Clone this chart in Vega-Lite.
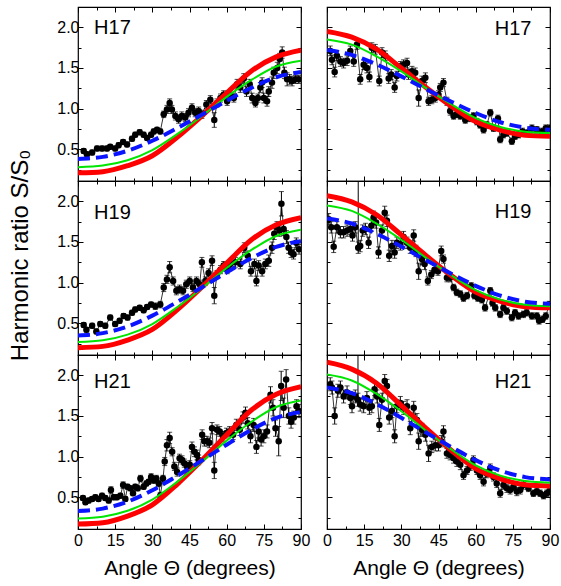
{
"$schema":"https://vega.github.io/schema/vega-lite/v6.json",
"background":"#ffffff",
"padding":{"left":8,"top":5,"right":5,"bottom":5},
"spacing":10,
"config":{
 "view":{"stroke":"#000","strokeWidth":1.2},
 "axis":{"domain":false,"grid":false,"ticks":true,"tickSize":-5,"tickColor":"#000","tickWidth":1,"labelFont":"Liberation Sans","labelFontSize":16,"labelColor":"#000","titleFont":"Liberation Sans","titleFontSize":21,"titleFontWeight":"normal","titleColor":"#000","labelOverlap":false,"labelFlush":false},
 "axisTop":{"minExtent":0,"maxExtent":0},
 "axisRight":{"minExtent":0,"maxExtent":0}
},
"datasets":{
 "d17L":[{"x":2.3,"y":0.48,"e":0.03},{"x":3.6,"y":0.44,"e":0.03},{"x":5.7,"y":0.46,"e":0.03},{"x":7.7,"y":0.51,"e":0.03},{"x":9.7,"y":0.51,"e":0.03},{"x":11.7,"y":0.51,"e":0.03},{"x":13,"y":0.53,"e":0.03},{"x":15,"y":0.51,"e":0.03},{"x":16.4,"y":0.55,"e":0.03},{"x":18.2,"y":0.59,"e":0.03},{"x":19.8,"y":0.56,"e":0.03},{"x":21.8,"y":0.63,"e":0.03},{"x":23.1,"y":0.68,"e":0.03},{"x":24.9,"y":0.71,"e":0.03},{"x":26.5,"y":0.68,"e":0.03},{"x":27.9,"y":0.64,"e":0.03},{"x":29.5,"y":0.68,"e":0.03},{"x":30.6,"y":0.72,"e":0.03},{"x":31.9,"y":0.74,"e":0.03},{"x":33.2,"y":0.72,"e":0.03},{"x":34.6,"y":0.93,"e":0.04},{"x":35.9,"y":0.99,"e":0.05},{"x":37,"y":1.07,"e":0.05},{"x":37.9,"y":0.99,"e":0.05},{"x":39.3,"y":0.91,"e":0.05},{"x":40.6,"y":0.87,"e":0.05},{"x":41.9,"y":0.91,"e":0.05},{"x":43.3,"y":0.89,"e":0.05},{"x":44.6,"y":0.95,"e":0.05},{"x":46,"y":1.01,"e":0.05},{"x":47.3,"y":0.95,"e":0.05},{"x":48.7,"y":0.97,"e":0.05},{"x":50,"y":0.93,"e":0.05},{"x":51.8,"y":1.05,"e":0.05},{"x":53.4,"y":1.11,"e":0.05},{"x":55,"y":0.86,"e":0.09},{"x":56.1,"y":1.07,"e":0.05},{"x":57.5,"y":1.13,"e":0.05},{"x":58.8,"y":1.17,"e":0.05},{"x":60.2,"y":1.09,"e":0.05},{"x":61.5,"y":1.17,"e":0.05},{"x":62.9,"y":1.13,"e":0.05},{"x":64.2,"y":1.3,"e":0.06},{"x":65.5,"y":1.26,"e":0.06},{"x":66.9,"y":1.37,"e":0.06},{"x":68,"y":1.21,"e":0.06},{"x":69.3,"y":1.3,"e":0.06},{"x":70.3,"y":1.13,"e":0.06},{"x":71.6,"y":1.07,"e":0.05},{"x":72.6,"y":1.13,"e":0.05},{"x":73.6,"y":1.26,"e":0.06},{"x":74.3,"y":1.32,"e":0.06},{"x":75,"y":1.13,"e":0.06},{"x":76.3,"y":1.09,"e":0.06},{"x":77,"y":1.21,"e":0.06},{"x":78.3,"y":1.32,"e":0.07},{"x":79,"y":1.44,"e":0.07},{"x":80.4,"y":1.5,"e":0.07},{"x":81.4,"y":1.61,"e":0.07},{"x":82.4,"y":1.69,"e":0.07},{"x":83.3,"y":1.44,"e":0.07},{"x":84.4,"y":1.36,"e":0.08},{"x":85.4,"y":1.36,"e":0.06},{"x":86.4,"y":1.34,"e":0.06},{"x":87.8,"y":1.36,"e":0.05},{"x":89.1,"y":1.36,"e":0.05}],
 "d17R":[{"x":1.3,"y":1.71,"e":0.06},{"x":2,"y":1.6,"e":0.06},{"x":3.1,"y":1.45,"e":0.06},{"x":4,"y":1.65,"e":0.06},{"x":5.4,"y":1.58,"e":0.06},{"x":6.7,"y":1.56,"e":0.06},{"x":8.1,"y":1.59,"e":0.06},{"x":9.4,"y":1.71,"e":0.06},{"x":10.8,"y":1.58,"e":0.06},{"x":12.1,"y":1.79,"e":0.06},{"x":13.4,"y":1.36,"e":0.06},{"x":14.8,"y":1.54,"e":0.06},{"x":16.1,"y":1.5,"e":0.06},{"x":17.1,"y":1.39,"e":0.06},{"x":18.1,"y":1.75,"e":0.06},{"x":19.5,"y":1.73,"e":0.06},{"x":21.1,"y":1.34,"e":0.06},{"x":22.2,"y":1.69,"e":0.06},{"x":23.5,"y":1.65,"e":0.06},{"x":24.9,"y":1.37,"e":0.06},{"x":25.9,"y":1.42,"e":0.06},{"x":27.3,"y":1.26,"e":0.06},{"x":28.2,"y":1.4,"e":0.06},{"x":29.6,"y":1.52,"e":0.06},{"x":30.9,"y":1.54,"e":0.06},{"x":32.3,"y":1.56,"e":0.06},{"x":32.9,"y":1.42,"e":0.06},{"x":34.3,"y":1.46,"e":0.06},{"x":35.6,"y":1.44,"e":0.06},{"x":37,"y":1.13,"e":0.1},{"x":38.3,"y":1.34,"e":0.06},{"x":39.7,"y":1.38,"e":0.06},{"x":41,"y":1.09,"e":0.05},{"x":42.3,"y":1.11,"e":0.05},{"x":43.7,"y":1.13,"e":0.05},{"x":45,"y":1.17,"e":0.05},{"x":45.7,"y":1.26,"e":0.05},{"x":47,"y":1.32,"e":0.05},{"x":48.4,"y":1.09,"e":0.05},{"x":49.7,"y":0.97,"e":0.05},{"x":51.1,"y":0.91,"e":0.04},{"x":52.4,"y":0.93,"e":0.04},{"x":53.8,"y":0.91,"e":0.04},{"x":55.8,"y":0.86,"e":0.04},{"x":57.8,"y":0.88,"e":0.04},{"x":59.1,"y":0.91,"e":0.04},{"x":60.5,"y":0.84,"e":0.04},{"x":61.8,"y":0.8,"e":0.04},{"x":63.2,"y":0.74,"e":0.04},{"x":64.5,"y":0.8,"e":0.04},{"x":65.9,"y":0.95,"e":0.04},{"x":67.2,"y":0.76,"e":0.04},{"x":69,"y":0.88,"e":0.04},{"x":69.9,"y":0.62,"e":0.04},{"x":71.2,"y":0.68,"e":0.04},{"x":72.6,"y":0.7,"e":0.04},{"x":74.6,"y":0.6,"e":0.04},{"x":75.9,"y":0.66,"e":0.04},{"x":77.3,"y":0.68,"e":0.04},{"x":78.9,"y":0.72,"e":0.04},{"x":80.6,"y":0.7,"e":0.04},{"x":82.7,"y":0.76,"e":0.04},{"x":84.7,"y":0.74,"e":0.04},{"x":86.7,"y":0.72,"e":0.04},{"x":88.3,"y":0.76,"e":0.04},{"x":89.8,"y":0.76,"e":0.04}],
 "d19L":[{"x":2.3,"y":0.48,"e":0.03},{"x":3.4,"y":0.42,"e":0.03},{"x":5.7,"y":0.47,"e":0.03},{"x":7.4,"y":0.4,"e":0.03},{"x":9,"y":0.49,"e":0.03},{"x":11,"y":0.47,"e":0.03},{"x":13,"y":0.57,"e":0.03},{"x":15,"y":0.49,"e":0.03},{"x":16.8,"y":0.53,"e":0.03},{"x":18.4,"y":0.59,"e":0.03},{"x":20,"y":0.57,"e":0.03},{"x":21.8,"y":0.63,"e":0.03},{"x":23.1,"y":0.67,"e":0.03},{"x":24.9,"y":0.69,"e":0.03},{"x":26.5,"y":0.66,"e":0.03},{"x":27.9,"y":0.7,"e":0.03},{"x":29.5,"y":0.73,"e":0.03},{"x":31.2,"y":0.71,"e":0.04},{"x":33.2,"y":0.73,"e":0.04},{"x":34.6,"y":0.94,"e":0.05},{"x":35.9,"y":1.04,"e":0.05},{"x":37,"y":1.19,"e":0.07},{"x":38.4,"y":1.02,"e":0.05},{"x":39.7,"y":0.9,"e":0.05},{"x":41,"y":0.92,"e":0.05},{"x":42.4,"y":0.9,"e":0.05},{"x":43.7,"y":0.98,"e":0.05},{"x":45.1,"y":1.02,"e":0.05},{"x":46.4,"y":0.94,"e":0.05},{"x":47.8,"y":1.02,"e":0.05},{"x":49.1,"y":0.98,"e":0.05},{"x":50,"y":1.25,"e":0.06},{"x":51.4,"y":1.02,"e":0.05},{"x":52.7,"y":1.12,"e":0.05},{"x":54.1,"y":1.27,"e":0.06},{"x":55,"y":0.84,"e":0.1},{"x":56.1,"y":1.1,"e":0.05},{"x":57.5,"y":1.16,"e":0.05},{"x":58.8,"y":1.21,"e":0.05},{"x":60.2,"y":1.16,"e":0.05},{"x":61.5,"y":1.23,"e":0.05},{"x":63.5,"y":1.25,"e":0.06},{"x":65.5,"y":1.23,"e":0.06},{"x":67.1,"y":1.43,"e":0.06},{"x":68.5,"y":1.33,"e":0.06},{"x":69.8,"y":1.14,"e":0.06},{"x":71.2,"y":1.23,"e":0.06},{"x":72,"y":1.02,"e":0.06},{"x":72.9,"y":1.21,"e":0.06},{"x":74.3,"y":1.14,"e":0.06},{"x":75.6,"y":1.23,"e":0.06},{"x":77,"y":1.27,"e":0.07},{"x":78.3,"y":1.43,"e":0.07},{"x":79.2,"y":1.6,"e":0.07},{"x":80.3,"y":1.68,"e":0.07},{"x":81.4,"y":1.64,"e":0.07},{"x":82.1,"y":1.97,"e":0.15},{"x":83,"y":1.66,"e":0.08},{"x":84.1,"y":1.56,"e":0.08},{"x":85,"y":1.43,"e":0.07},{"x":86,"y":1.37,"e":0.06},{"x":87,"y":1.35,"e":0.06},{"x":88.1,"y":1.49,"e":0.06},{"x":89.2,"y":1.41,"e":0.06}],
 "d19R":[{"x":0.7,"y":1.78,"e":0.07},{"x":1.7,"y":1.68,"e":0.07},{"x":2.7,"y":1.44,"e":0.07},{"x":4,"y":1.68,"e":0.07},{"x":5.4,"y":1.62,"e":0.07},{"x":6.7,"y":1.62,"e":0.07},{"x":8.1,"y":1.64,"e":0.07},{"x":9.4,"y":1.66,"e":0.07},{"x":10.3,"y":1.58,"e":0.07},{"x":11.4,"y":1.68,"e":0.07},{"x":12.6,"y":1.43,"e":0.07},{"x":13.4,"y":1.45,"e":0.07},{"x":14.4,"y":1.64,"e":0.07},{"x":15.5,"y":1.66,"e":0.07},{"x":16.8,"y":1.49,"e":0.07},{"x":17.9,"y":1.7,"e":0.07},{"x":18.8,"y":1.8,"e":0.08},{"x":19.8,"y":1.74,"e":0.07},{"x":20.8,"y":1.37,"e":0.07},{"x":22.2,"y":1.64,"e":0.07},{"x":23.3,"y":1.86,"e":0.08},{"x":24.2,"y":1.76,"e":0.07},{"x":25.1,"y":1.33,"e":0.07},{"x":26.2,"y":1.45,"e":0.07},{"x":27.3,"y":1.37,"e":0.07},{"x":28.2,"y":1.49,"e":0.07},{"x":29.6,"y":1.47,"e":0.07},{"x":30.9,"y":1.56,"e":0.07},{"x":32.3,"y":1.49,"e":0.07},{"x":33.6,"y":1.43,"e":0.07},{"x":35,"y":1.58,"e":0.07},{"x":35.9,"y":1.39,"e":0.07},{"x":37,"y":1.14,"e":0.1},{"x":38.3,"y":1.29,"e":0.07},{"x":39.4,"y":1.23,"e":0.07},{"x":40.7,"y":1.02,"e":0.05},{"x":42.1,"y":1.1,"e":0.05},{"x":43.4,"y":1.16,"e":0.05},{"x":44.8,"y":1.14,"e":0.05},{"x":46.1,"y":1.39,"e":0.06},{"x":47,"y":1.29,"e":0.05},{"x":48.4,"y":1.06,"e":0.05},{"x":49.7,"y":1.06,"e":0.05},{"x":51.1,"y":0.94,"e":0.04},{"x":52.4,"y":0.88,"e":0.04},{"x":53.8,"y":0.86,"e":0.04},{"x":55.1,"y":0.81,"e":0.04},{"x":56.5,"y":0.84,"e":0.04},{"x":58.2,"y":0.96,"e":0.04},{"x":59.5,"y":0.84,"e":0.04},{"x":60.9,"y":0.81,"e":0.04},{"x":62.5,"y":0.79,"e":0.04},{"x":63.8,"y":0.69,"e":0.04},{"x":65.9,"y":0.9,"e":0.04},{"x":66.8,"y":0.75,"e":0.04},{"x":67.9,"y":0.69,"e":0.04},{"x":69.9,"y":0.61,"e":0.04},{"x":71.2,"y":0.69,"e":0.04},{"x":72.6,"y":0.65,"e":0.04},{"x":74.6,"y":0.57,"e":0.04},{"x":75.9,"y":0.63,"e":0.04},{"x":77.3,"y":0.59,"e":0.04},{"x":79.3,"y":0.61,"e":0.04},{"x":80.6,"y":0.63,"e":0.04},{"x":82.7,"y":0.59,"e":0.04},{"x":84.7,"y":0.59,"e":0.04},{"x":85.6,"y":0.53,"e":0.04},{"x":87,"y":0.55,"e":0.04},{"x":88.3,"y":0.59,"e":0.04},{"x":89.7,"y":0.73,"e":0.04}],
 "d21L":[{"x":2,"y":0.49,"e":0.03},{"x":3,"y":0.44,"e":0.03},{"x":4.3,"y":0.46,"e":0.03},{"x":5.7,"y":0.48,"e":0.03},{"x":7,"y":0.5,"e":0.03},{"x":8.3,"y":0.48,"e":0.03},{"x":9.7,"y":0.52,"e":0.03},{"x":11,"y":0.49,"e":0.03},{"x":12.4,"y":0.46,"e":0.03},{"x":13.3,"y":0.59,"e":0.04},{"x":14.4,"y":0.5,"e":0.03},{"x":15.7,"y":0.5,"e":0.03},{"x":17.1,"y":0.52,"e":0.03},{"x":18.2,"y":0.65,"e":0.04},{"x":19.1,"y":0.48,"e":0.03},{"x":20,"y":0.63,"e":0.03},{"x":21.1,"y":0.61,"e":0.03},{"x":22.2,"y":0.55,"e":0.03},{"x":23.1,"y":0.63,"e":0.03},{"x":24.1,"y":0.61,"e":0.03},{"x":25.2,"y":0.73,"e":0.04},{"x":26.5,"y":0.63,"e":0.03},{"x":27.6,"y":0.67,"e":0.03},{"x":28.5,"y":0.69,"e":0.03},{"x":29.5,"y":0.75,"e":0.04},{"x":30.6,"y":0.71,"e":0.04},{"x":31.6,"y":0.73,"e":0.04},{"x":32.6,"y":0.67,"e":0.04},{"x":33.2,"y":0.52,"e":0.04},{"x":34.3,"y":0.73,"e":0.04},{"x":35,"y":0.94,"e":0.05},{"x":35.9,"y":1.14,"e":0.07},{"x":37,"y":1.23,"e":0.07},{"x":38,"y":1.06,"e":0.05},{"x":38.9,"y":0.88,"e":0.05},{"x":40,"y":0.81,"e":0.05},{"x":41,"y":0.98,"e":0.05},{"x":42,"y":0.96,"e":0.05},{"x":42.9,"y":0.92,"e":0.05},{"x":44,"y":0.88,"e":0.05},{"x":45.1,"y":0.9,"e":0.05},{"x":46,"y":1.12,"e":0.06},{"x":47,"y":1.06,"e":0.06},{"x":48,"y":1.02,"e":0.06},{"x":48.7,"y":0.96,"e":0.06},{"x":50.1,"y":1.27,"e":0.06},{"x":51,"y":1.19,"e":0.06},{"x":52.1,"y":1.19,"e":0.06},{"x":53,"y":1.17,"e":0.06},{"x":54.1,"y":1.35,"e":0.07},{"x":55,"y":0.83,"e":0.1},{"x":56.1,"y":1.33,"e":0.06},{"x":57.2,"y":1.31,"e":0.06},{"x":58.5,"y":1.25,"e":0.06},{"x":59.9,"y":1.29,"e":0.06},{"x":61.2,"y":1.31,"e":0.06},{"x":62.6,"y":1.27,"e":0.06},{"x":63.9,"y":1.39,"e":0.07},{"x":65.3,"y":1.33,"e":0.07},{"x":66.6,"y":1.48,"e":0.07},{"x":67.6,"y":1.54,"e":0.07},{"x":68.5,"y":1.41,"e":0.07},{"x":69.6,"y":1.25,"e":0.08},{"x":70.9,"y":1.39,"e":0.08},{"x":72,"y":1.12,"e":0.08},{"x":72.9,"y":1.31,"e":0.08},{"x":73.9,"y":1.21,"e":0.08},{"x":75,"y":1.25,"e":0.08},{"x":76.3,"y":1.31,"e":0.08},{"x":77.7,"y":1.76,"e":0.1},{"x":78.7,"y":1.6,"e":0.1},{"x":79.7,"y":1.35,"e":0.1},{"x":81,"y":1.19,"e":0.18},{"x":82,"y":1.87,"e":0.18},{"x":83,"y":1.6,"e":0.12},{"x":84,"y":1.95,"e":0.12},{"x":85.1,"y":1.5,"e":0.1},{"x":86,"y":1.43,"e":0.08},{"x":87.1,"y":1.48,"e":0.08},{"x":88.2,"y":1.62,"e":0.08},{"x":89.2,"y":1.56,"e":0.08}],
 "d21R":[{"x":1.3,"y":1.89,"e":0.08},{"x":2,"y":1.85,"e":0.08},{"x":3.1,"y":1.5,"e":0.1},{"x":4.4,"y":1.81,"e":0.08},{"x":5.4,"y":1.85,"e":0.08},{"x":6.7,"y":1.74,"e":0.08},{"x":8.1,"y":1.79,"e":0.08},{"x":9.4,"y":1.72,"e":0.08},{"x":10.1,"y":1.62,"e":0.08},{"x":11.4,"y":1.74,"e":0.08},{"x":12.5,"y":1.7,"e":0.08},{"x":13.4,"y":1.64,"e":0.08},{"x":14.8,"y":1.62,"e":0.08},{"x":16.1,"y":1.72,"e":0.08},{"x":17.1,"y":1.6,"e":0.08},{"x":18.1,"y":1.62,"e":0.08},{"x":19.2,"y":1.83,"e":0.08},{"x":20.2,"y":1.74,"e":0.08},{"x":21.1,"y":1.39,"e":0.08},{"x":22.2,"y":1.7,"e":0.08},{"x":23.3,"y":1.93,"e":0.08},{"x":24.2,"y":1.87,"e":0.08},{"x":25.1,"y":1.48,"e":0.08},{"x":26.2,"y":1.56,"e":0.08},{"x":27.3,"y":1.25,"e":0.08},{"x":28.2,"y":1.62,"e":0.08},{"x":29.6,"y":1.66,"e":0.08},{"x":30.9,"y":1.6,"e":0.08},{"x":32.3,"y":1.62,"e":0.08},{"x":33.6,"y":1.35,"e":0.08},{"x":35,"y":1.6,"e":0.08},{"x":36.3,"y":1.45,"e":0.08},{"x":37,"y":1.19,"e":0.1},{"x":38.3,"y":1.33,"e":0.08},{"x":39.7,"y":1.27,"e":0.08},{"x":41,"y":1.04,"e":0.1},{"x":42.3,"y":1.12,"e":0.07},{"x":43.7,"y":1.14,"e":0.07},{"x":45,"y":1.14,"e":0.07},{"x":46.1,"y":1.19,"e":0.07},{"x":47,"y":1.31,"e":0.07},{"x":48.4,"y":1.04,"e":0.06},{"x":49.7,"y":1.02,"e":0.06},{"x":51.1,"y":0.98,"e":0.06},{"x":52.4,"y":0.94,"e":0.06},{"x":53.8,"y":0.9,"e":0.06},{"x":55.1,"y":0.77,"e":0.05},{"x":56.5,"y":0.83,"e":0.05},{"x":57.8,"y":0.88,"e":0.05},{"x":59.1,"y":0.96,"e":0.05},{"x":60.5,"y":0.83,"e":0.05},{"x":61.8,"y":0.77,"e":0.05},{"x":63.2,"y":0.69,"e":0.05},{"x":64.5,"y":0.79,"e":0.05},{"x":65.9,"y":0.86,"e":0.05},{"x":67.2,"y":0.75,"e":0.05},{"x":68.5,"y":0.67,"e":0.05},{"x":69.9,"y":0.55,"e":0.05},{"x":71.2,"y":0.65,"e":0.05},{"x":72.6,"y":0.61,"e":0.05},{"x":73.9,"y":0.59,"e":0.05},{"x":75.3,"y":0.63,"e":0.05},{"x":76.6,"y":0.57,"e":0.05},{"x":78,"y":0.59,"e":0.05},{"x":79.3,"y":0.65,"e":0.05},{"x":81.3,"y":0.61,"e":0.04},{"x":83.3,"y":0.55,"e":0.04},{"x":84.7,"y":0.57,"e":0.04},{"x":86,"y":0.55,"e":0.04},{"x":87.4,"y":0.52,"e":0.04},{"x":88.7,"y":0.55,"e":0.04},{"x":89.7,"y":0.57,"e":0.04}],
 "s19R":[{"x":12.6,"y":1.43,"y2":2.25}],
 "s21R":[{"x":12.5,"y":1.7,"y2":2.25}],
 "c17L":[{"x":0,"r":0.21,"g":0.28,"b":0.38},{"x":10,"r":0.225,"g":0.3,"b":0.407},{"x":20,"r":0.298,"g":0.365,"b":0.482},{"x":30,"r":0.421,"g":0.49,"b":0.605},{"x":40,"r":0.648,"g":0.686,"b":0.76},{"x":50,"r":0.912,"g":0.909,"b":0.926},{"x":60,"r":1.192,"g":1.145,"b":1.097},{"x":70,"r":1.463,"g":1.354,"b":1.257},{"x":80,"r":1.637,"g":1.518,"b":1.386},{"x":90,"r":1.72,"g":1.59,"b":1.45}],
 "c19L":[{"x":0,"r":0.2,"g":0.27,"b":0.35},{"x":10,"r":0.216,"g":0.291,"b":0.379},{"x":20,"r":0.293,"g":0.36,"b":0.46},{"x":30,"r":0.424,"g":0.491,"b":0.594},{"x":40,"r":0.664,"g":0.698,"b":0.762},{"x":50,"r":0.944,"g":0.932,"b":0.942},{"x":60,"r":1.24,"g":1.181,"b":1.127},{"x":70,"r":1.528,"g":1.402,"b":1.301},{"x":80,"r":1.712,"g":1.574,"b":1.44},{"x":90,"r":1.8,"g":1.65,"b":1.51}],
 "c21L":[{"x":0,"r":0.17,"g":0.24,"b":0.33},{"x":10,"r":0.187,"g":0.262,"b":0.361},{"x":20,"r":0.268,"g":0.334,"b":0.446},{"x":30,"r":0.407,"g":0.472,"b":0.586},{"x":40,"r":0.66,"g":0.69,"b":0.763},{"x":50,"r":0.956,"g":0.936,"b":0.952},{"x":60,"r":1.269,"g":1.197,"b":1.147},{"x":70,"r":1.573,"g":1.429,"b":1.33},{"x":80,"r":1.767,"g":1.61,"b":1.477},{"x":90,"r":1.86,"g":1.69,"b":1.55}],
 "c17R":[{"x":0,"r":1.95,"g":1.85,"b":1.72},{"x":10,"r":1.879,"g":1.787,"b":1.661},{"x":20,"r":1.731,"g":1.643,"b":1.544},{"x":30,"r":1.499,"g":1.459,"b":1.397},{"x":40,"r":1.26,"g":1.252,"b":1.24},{"x":50,"r":1.034,"g":1.057,"b":1.088},{"x":60,"r":0.841,"g":0.884,"b":0.946},{"x":70,"r":0.735,"g":0.775,"b":0.833},{"x":80,"r":0.673,"g":0.717,"b":0.765},{"x":90,"r":0.66,"g":0.7,"b":0.74}],
 "c19R":[{"x":0,"r":2.07,"g":1.95,"b":1.79},{"x":10,"r":1.994,"g":1.882,"b":1.727},{"x":20,"r":1.835,"g":1.727,"b":1.601},{"x":30,"r":1.587,"g":1.528,"b":1.444},{"x":40,"r":1.332,"g":1.305,"b":1.276},{"x":50,"r":1.09,"g":1.094,"b":1.113},{"x":60,"r":0.883,"g":0.908,"b":0.961},{"x":70,"r":0.77,"g":0.791,"b":0.84},{"x":80,"r":0.704,"g":0.729,"b":0.766},{"x":90,"r":0.69,"g":0.71,"b":0.74}],
 "c21R":[{"x":0,"r":2.16,"g":2.01,"b":1.85},{"x":10,"r":2.076,"g":1.937,"b":1.782},{"x":20,"r":1.902,"g":1.771,"b":1.647},{"x":30,"r":1.628,"g":1.558,"b":1.477},{"x":40,"r":1.347,"g":1.318,"b":1.296},{"x":50,"r":1.081,"g":1.092,"b":1.121},{"x":60,"r":0.853,"g":0.893,"b":0.957},{"x":70,"r":0.728,"g":0.766,"b":0.827},{"x":80,"r":0.655,"g":0.7,"b":0.748},{"x":90,"r":0.64,"g":0.68,"b":0.72}]
},
"hconcat":[
 {"bounds":"flush","spacing":0,"vconcat":[
  {"width":223,"height":174,"resolve":{"axis":{"x":"independent","y":"independent"}},"layer":[
   {"data":{"name":"d17L"},"mark":{"type":"errorbar","ticks":true,"color":"#000","clip":true,"size":5,"thickness":1},"encoding":{"x":{"field":"x","type":"quantitative","scale":{"domain":[0,90],"nice":false},"axis":null},"y":{"field":"y","type":"quantitative","scale":{"domain":[0.11,2.25],"nice":false,"zero":false},"axis":null},"yError":{"field":"e"}}},
   {"data":{"name":"d17L"},"mark":{"type":"line","color":"#000","strokeWidth":0.8,"clip":true},"encoding":{"x":{"field":"x","type":"quantitative","scale":{"domain":[0,90],"nice":false},"axis":null},"y":{"field":"y","type":"quantitative","scale":{"domain":[0.11,2.25],"nice":false,"zero":false},"axis":null}}},
   {"data":{"name":"d17L"},"mark":{"type":"circle","color":"#000","size":42,"opacity":1,"clip":true},"encoding":{"x":{"field":"x","type":"quantitative","scale":{"domain":[0,90],"nice":false},"axis":{"orient":"bottom","values":[0,7.5,15,22.5,30,37.5,45,52.5,60,67.5,75,82.5,90],"labels":false,"title":null,"minExtent":0,"maxExtent":0,"tickDash":{"condition":{"test":"datum.value % 15 !== 0","value":[3,20]},"value":[10,0]}}},"y":{"field":"y","type":"quantitative","scale":{"domain":[0.11,2.25],"nice":false,"zero":false},"axis":{"orient":"left","values":[0.25,0.5,0.75,1,1.25,1.5,1.75,2],"labelExpr":"datum.value % 0.5 === 0 ? format(datum.value, '.1f') : ''","labelPadding":4,"title":null,"tickDash":{"condition":{"test":"datum.value % 0.5 !== 0","value":[3,20]},"value":[10,0]}}}}},
   {"data":{"name":"c17L"},"mark":{"type":"line","color":"#ff0000","strokeWidth":5,"interpolate":"monotone","clip":true},"encoding":{"x":{"field":"x","type":"quantitative","scale":{"domain":[0,90],"nice":false},"axis":{"orient":"top","values":[0,7.5,15,22.5,30,37.5,45,52.5,60,67.5,75,82.5,90],"labels":false,"title":null,"tickDash":{"condition":{"test":"datum.value % 15 !== 0","value":[3,20]},"value":[10,0]}}},"y":{"field":"r","type":"quantitative","scale":{"domain":[0.11,2.25],"nice":false,"zero":false},"axis":{"orient":"right","values":[0.25,0.5,0.75,1,1.25,1.5,1.75,2],"labels":false,"title":null,"tickDash":{"condition":{"test":"datum.value % 0.5 !== 0","value":[3,20]},"value":[10,0]}}}}},
   {"data":{"name":"c17L"},"mark":{"type":"line","color":"#00e600","strokeWidth":2,"interpolate":"monotone","clip":true},"encoding":{"x":{"field":"x","type":"quantitative","scale":{"domain":[0,90],"nice":false},"axis":null},"y":{"field":"g","type":"quantitative","scale":{"domain":[0.11,2.25],"nice":false,"zero":false},"axis":null}}},
   {"data":{"name":"c17L"},"mark":{"type":"line","color":"#0a14ff","strokeWidth":4,"strokeDash":[12,6],"interpolate":"monotone","clip":true},"encoding":{"x":{"field":"x","type":"quantitative","scale":{"domain":[0,90],"nice":false},"axis":null},"y":{"field":"b","type":"quantitative","scale":{"domain":[0.11,2.25],"nice":false,"zero":false},"axis":null}}},
   {"data":{"values":[{"t":"H17"}]},"mark":{"type":"text","align":"left","baseline":"alphabetic","font":"Liberation Sans","fontSize":20,"color":"#000"},"encoding":{"x":{"datum":6.5,"type":"quantitative","scale":{"domain":[0,90],"nice":false},"axis":null},"y":{"datum":1.92,"type":"quantitative","scale":{"domain":[0.11,2.25],"nice":false,"zero":false},"axis":null},"text":{"field":"t"}}}
  ]},
  {"width":223,"height":174,"resolve":{"axis":{"x":"independent","y":"independent"}},"layer":[
   {"data":{"name":"d19L"},"mark":{"type":"errorbar","ticks":true,"color":"#000","clip":true,"size":5,"thickness":1},"encoding":{"x":{"field":"x","type":"quantitative","scale":{"domain":[0,90],"nice":false},"axis":null},"y":{"field":"y","type":"quantitative","scale":{"domain":[0.11,2.25],"nice":false,"zero":false},"axis":null},"yError":{"field":"e"}}},
   {"data":{"name":"d19L"},"mark":{"type":"line","color":"#000","strokeWidth":0.8,"clip":true},"encoding":{"x":{"field":"x","type":"quantitative","scale":{"domain":[0,90],"nice":false},"axis":null},"y":{"field":"y","type":"quantitative","scale":{"domain":[0.11,2.25],"nice":false,"zero":false},"axis":null}}},
   {"data":{"name":"d19L"},"mark":{"type":"circle","color":"#000","size":42,"opacity":1,"clip":true},"encoding":{"x":{"field":"x","type":"quantitative","scale":{"domain":[0,90],"nice":false},"axis":{"orient":"bottom","values":[0,7.5,15,22.5,30,37.5,45,52.5,60,67.5,75,82.5,90],"labels":false,"title":null,"minExtent":0,"maxExtent":0,"tickDash":{"condition":{"test":"datum.value % 15 !== 0","value":[3,20]},"value":[10,0]}}},"y":{"field":"y","type":"quantitative","scale":{"domain":[0.11,2.25],"nice":false,"zero":false},"axis":{"orient":"left","values":[0.25,0.5,0.75,1,1.25,1.5,1.75,2],"labelExpr":"datum.value % 0.5 === 0 ? format(datum.value, '.1f') : ''","labelPadding":4,"title":"Harmonic ratio S/S₀","titleFontSize":24,"titlePadding":24,"titleY":74,"tickDash":{"condition":{"test":"datum.value % 0.5 !== 0","value":[3,20]},"value":[10,0]}}}}},
   {"data":{"name":"c19L"},"mark":{"type":"line","color":"#ff0000","strokeWidth":5,"interpolate":"monotone","clip":true},"encoding":{"x":{"field":"x","type":"quantitative","scale":{"domain":[0,90],"nice":false},"axis":{"orient":"top","values":[0,7.5,15,22.5,30,37.5,45,52.5,60,67.5,75,82.5,90],"labels":false,"title":null,"tickDash":{"condition":{"test":"datum.value % 15 !== 0","value":[3,20]},"value":[10,0]}}},"y":{"field":"r","type":"quantitative","scale":{"domain":[0.11,2.25],"nice":false,"zero":false},"axis":{"orient":"right","values":[0.25,0.5,0.75,1,1.25,1.5,1.75,2],"labels":false,"title":null,"tickDash":{"condition":{"test":"datum.value % 0.5 !== 0","value":[3,20]},"value":[10,0]}}}}},
   {"data":{"name":"c19L"},"mark":{"type":"line","color":"#00e600","strokeWidth":2,"interpolate":"monotone","clip":true},"encoding":{"x":{"field":"x","type":"quantitative","scale":{"domain":[0,90],"nice":false},"axis":null},"y":{"field":"g","type":"quantitative","scale":{"domain":[0.11,2.25],"nice":false,"zero":false},"axis":null}}},
   {"data":{"name":"c19L"},"mark":{"type":"line","color":"#0a14ff","strokeWidth":4,"strokeDash":[12,6],"interpolate":"monotone","clip":true},"encoding":{"x":{"field":"x","type":"quantitative","scale":{"domain":[0,90],"nice":false},"axis":null},"y":{"field":"b","type":"quantitative","scale":{"domain":[0.11,2.25],"nice":false,"zero":false},"axis":null}}},
   {"data":{"values":[{"t":"H19"}]},"mark":{"type":"text","align":"left","baseline":"alphabetic","font":"Liberation Sans","fontSize":20,"color":"#000"},"encoding":{"x":{"datum":6.5,"type":"quantitative","scale":{"domain":[0,90],"nice":false},"axis":null},"y":{"datum":1.78,"type":"quantitative","scale":{"domain":[0.11,2.25],"nice":false,"zero":false},"axis":null},"text":{"field":"t"}}}
  ]},
  {"width":223,"height":174,"resolve":{"axis":{"x":"independent","y":"independent"}},"layer":[
   {"data":{"name":"d21L"},"mark":{"type":"errorbar","ticks":true,"color":"#000","clip":true,"size":5,"thickness":1},"encoding":{"x":{"field":"x","type":"quantitative","scale":{"domain":[0,90],"nice":false},"axis":null},"y":{"field":"y","type":"quantitative","scale":{"domain":[0.11,2.25],"nice":false,"zero":false},"axis":null},"yError":{"field":"e"}}},
   {"data":{"name":"d21L"},"mark":{"type":"line","color":"#000","strokeWidth":0.8,"clip":true},"encoding":{"x":{"field":"x","type":"quantitative","scale":{"domain":[0,90],"nice":false},"axis":null},"y":{"field":"y","type":"quantitative","scale":{"domain":[0.11,2.25],"nice":false,"zero":false},"axis":null}}},
   {"data":{"name":"d21L"},"mark":{"type":"circle","color":"#000","size":42,"opacity":1,"clip":true},"encoding":{"x":{"field":"x","type":"quantitative","scale":{"domain":[0,90],"nice":false},"axis":{"orient":"bottom","values":[0,7.5,15,22.5,30,37.5,45,52.5,60,67.5,75,82.5,90],"labelExpr":"datum.value % 15 === 0 ? datum.label : ''","labelPadding":8,"title":"Angle Θ (degrees)","titlePadding":9,"tickDash":{"condition":{"test":"datum.value % 15 !== 0","value":[3,20]},"value":[10,0]}}},"y":{"field":"y","type":"quantitative","scale":{"domain":[0.11,2.25],"nice":false,"zero":false},"axis":{"orient":"left","values":[0.25,0.5,0.75,1,1.25,1.5,1.75,2],"labelExpr":"datum.value % 0.5 === 0 ? format(datum.value, '.1f') : ''","labelPadding":4,"title":null,"tickDash":{"condition":{"test":"datum.value % 0.5 !== 0","value":[3,20]},"value":[10,0]}}}}},
   {"data":{"name":"c21L"},"mark":{"type":"line","color":"#ff0000","strokeWidth":5,"interpolate":"monotone","clip":true},"encoding":{"x":{"field":"x","type":"quantitative","scale":{"domain":[0,90],"nice":false},"axis":{"orient":"top","values":[0,7.5,15,22.5,30,37.5,45,52.5,60,67.5,75,82.5,90],"labels":false,"title":null,"tickDash":{"condition":{"test":"datum.value % 15 !== 0","value":[3,20]},"value":[10,0]}}},"y":{"field":"r","type":"quantitative","scale":{"domain":[0.11,2.25],"nice":false,"zero":false},"axis":{"orient":"right","values":[0.25,0.5,0.75,1,1.25,1.5,1.75,2],"labels":false,"title":null,"tickDash":{"condition":{"test":"datum.value % 0.5 !== 0","value":[3,20]},"value":[10,0]}}}}},
   {"data":{"name":"c21L"},"mark":{"type":"line","color":"#00e600","strokeWidth":2,"interpolate":"monotone","clip":true},"encoding":{"x":{"field":"x","type":"quantitative","scale":{"domain":[0,90],"nice":false},"axis":null},"y":{"field":"g","type":"quantitative","scale":{"domain":[0.11,2.25],"nice":false,"zero":false},"axis":null}}},
   {"data":{"name":"c21L"},"mark":{"type":"line","color":"#0a14ff","strokeWidth":4,"strokeDash":[12,6],"interpolate":"monotone","clip":true},"encoding":{"x":{"field":"x","type":"quantitative","scale":{"domain":[0,90],"nice":false},"axis":null},"y":{"field":"b","type":"quantitative","scale":{"domain":[0.11,2.25],"nice":false,"zero":false},"axis":null}}},
   {"data":{"values":[{"t":"H21"}]},"mark":{"type":"text","align":"left","baseline":"alphabetic","font":"Liberation Sans","fontSize":20,"color":"#000"},"encoding":{"x":{"datum":6.5,"type":"quantitative","scale":{"domain":[0,90],"nice":false},"axis":null},"y":{"datum":1.85,"type":"quantitative","scale":{"domain":[0.11,2.25],"nice":false,"zero":false},"axis":null},"text":{"field":"t"}}}
  ]}
 ]},
 {"bounds":"flush","spacing":0,"vconcat":[
  {"width":223,"height":174,"resolve":{"axis":{"x":"independent","y":"independent"}},"layer":[
   {"data":{"name":"d17R"},"mark":{"type":"errorbar","ticks":true,"color":"#000","clip":true,"size":5,"thickness":1},"encoding":{"x":{"field":"x","type":"quantitative","scale":{"domain":[0,90],"nice":false},"axis":null},"y":{"field":"y","type":"quantitative","scale":{"domain":[0.11,2.25],"nice":false,"zero":false},"axis":null},"yError":{"field":"e"}}},
   {"data":{"name":"d17R"},"mark":{"type":"line","color":"#000","strokeWidth":0.8,"clip":true},"encoding":{"x":{"field":"x","type":"quantitative","scale":{"domain":[0,90],"nice":false},"axis":null},"y":{"field":"y","type":"quantitative","scale":{"domain":[0.11,2.25],"nice":false,"zero":false},"axis":null}}},
   {"data":{"name":"d17R"},"mark":{"type":"circle","color":"#000","size":42,"opacity":1,"clip":true},"encoding":{"x":{"field":"x","type":"quantitative","scale":{"domain":[0,90],"nice":false},"axis":{"orient":"bottom","values":[0,7.5,15,22.5,30,37.5,45,52.5,60,67.5,75,82.5,90],"labels":false,"title":null,"minExtent":0,"maxExtent":0,"tickDash":{"condition":{"test":"datum.value % 15 !== 0","value":[3,20]},"value":[10,0]}}},"y":{"field":"y","type":"quantitative","scale":{"domain":[0.11,2.25],"nice":false,"zero":false},"axis":{"orient":"left","values":[0.25,0.5,0.75,1,1.25,1.5,1.75,2],"labels":false,"title":null,"minExtent":0,"maxExtent":0,"tickDash":{"condition":{"test":"datum.value % 0.5 !== 0","value":[3,20]},"value":[10,0]}}}}},
   {"data":{"name":"c17R"},"mark":{"type":"line","color":"#ff0000","strokeWidth":5,"interpolate":"monotone","clip":true},"encoding":{"x":{"field":"x","type":"quantitative","scale":{"domain":[0,90],"nice":false},"axis":{"orient":"top","values":[0,7.5,15,22.5,30,37.5,45,52.5,60,67.5,75,82.5,90],"labels":false,"title":null,"tickDash":{"condition":{"test":"datum.value % 15 !== 0","value":[3,20]},"value":[10,0]}}},"y":{"field":"r","type":"quantitative","scale":{"domain":[0.11,2.25],"nice":false,"zero":false},"axis":{"orient":"right","values":[0.25,0.5,0.75,1,1.25,1.5,1.75,2],"labels":false,"title":null,"tickDash":{"condition":{"test":"datum.value % 0.5 !== 0","value":[3,20]},"value":[10,0]}}}}},
   {"data":{"name":"c17R"},"mark":{"type":"line","color":"#00e600","strokeWidth":2,"interpolate":"monotone","clip":true},"encoding":{"x":{"field":"x","type":"quantitative","scale":{"domain":[0,90],"nice":false},"axis":null},"y":{"field":"g","type":"quantitative","scale":{"domain":[0.11,2.25],"nice":false,"zero":false},"axis":null}}},
   {"data":{"name":"c17R"},"mark":{"type":"line","color":"#0a14ff","strokeWidth":4,"strokeDash":[12,6],"interpolate":"monotone","clip":true},"encoding":{"x":{"field":"x","type":"quantitative","scale":{"domain":[0,90],"nice":false},"axis":null},"y":{"field":"b","type":"quantitative","scale":{"domain":[0.11,2.25],"nice":false,"zero":false},"axis":null}}},
   {"data":{"values":[{"t":"H17"}]},"mark":{"type":"text","align":"right","baseline":"alphabetic","font":"Liberation Sans","fontSize":20,"color":"#000"},"encoding":{"x":{"datum":82.5,"type":"quantitative","scale":{"domain":[0,90],"nice":false},"axis":null},"y":{"datum":1.91,"type":"quantitative","scale":{"domain":[0.11,2.25],"nice":false,"zero":false},"axis":null},"text":{"field":"t"}}}
  ]},
  {"width":223,"height":174,"resolve":{"axis":{"x":"independent","y":"independent"}},"layer":[
   {"data":{"name":"s19R"},"mark":{"type":"rule","color":"#000","strokeWidth":1,"clip":true},"encoding":{"x":{"field":"x","type":"quantitative","scale":{"domain":[0,90],"nice":false},"axis":null},"y":{"field":"y","type":"quantitative","scale":{"domain":[0.11,2.25],"nice":false,"zero":false},"axis":null},"y2":{"field":"y2"}}},
   {"data":{"name":"d19R"},"mark":{"type":"errorbar","ticks":true,"color":"#000","clip":true,"size":5,"thickness":1},"encoding":{"x":{"field":"x","type":"quantitative","scale":{"domain":[0,90],"nice":false},"axis":null},"y":{"field":"y","type":"quantitative","scale":{"domain":[0.11,2.25],"nice":false,"zero":false},"axis":null},"yError":{"field":"e"}}},
   {"data":{"name":"d19R"},"mark":{"type":"line","color":"#000","strokeWidth":0.8,"clip":true},"encoding":{"x":{"field":"x","type":"quantitative","scale":{"domain":[0,90],"nice":false},"axis":null},"y":{"field":"y","type":"quantitative","scale":{"domain":[0.11,2.25],"nice":false,"zero":false},"axis":null}}},
   {"data":{"name":"d19R"},"mark":{"type":"circle","color":"#000","size":42,"opacity":1,"clip":true},"encoding":{"x":{"field":"x","type":"quantitative","scale":{"domain":[0,90],"nice":false},"axis":{"orient":"bottom","values":[0,7.5,15,22.5,30,37.5,45,52.5,60,67.5,75,82.5,90],"labels":false,"title":null,"minExtent":0,"maxExtent":0,"tickDash":{"condition":{"test":"datum.value % 15 !== 0","value":[3,20]},"value":[10,0]}}},"y":{"field":"y","type":"quantitative","scale":{"domain":[0.11,2.25],"nice":false,"zero":false},"axis":{"orient":"left","values":[0.25,0.5,0.75,1,1.25,1.5,1.75,2],"labels":false,"title":null,"minExtent":0,"maxExtent":0,"tickDash":{"condition":{"test":"datum.value % 0.5 !== 0","value":[3,20]},"value":[10,0]}}}}},
   {"data":{"name":"c19R"},"mark":{"type":"line","color":"#ff0000","strokeWidth":5,"interpolate":"monotone","clip":true},"encoding":{"x":{"field":"x","type":"quantitative","scale":{"domain":[0,90],"nice":false},"axis":{"orient":"top","values":[0,7.5,15,22.5,30,37.5,45,52.5,60,67.5,75,82.5,90],"labels":false,"title":null,"tickDash":{"condition":{"test":"datum.value % 15 !== 0","value":[3,20]},"value":[10,0]}}},"y":{"field":"r","type":"quantitative","scale":{"domain":[0.11,2.25],"nice":false,"zero":false},"axis":{"orient":"right","values":[0.25,0.5,0.75,1,1.25,1.5,1.75,2],"labels":false,"title":null,"tickDash":{"condition":{"test":"datum.value % 0.5 !== 0","value":[3,20]},"value":[10,0]}}}}},
   {"data":{"name":"c19R"},"mark":{"type":"line","color":"#00e600","strokeWidth":2,"interpolate":"monotone","clip":true},"encoding":{"x":{"field":"x","type":"quantitative","scale":{"domain":[0,90],"nice":false},"axis":null},"y":{"field":"g","type":"quantitative","scale":{"domain":[0.11,2.25],"nice":false,"zero":false},"axis":null}}},
   {"data":{"name":"c19R"},"mark":{"type":"line","color":"#0a14ff","strokeWidth":4,"strokeDash":[12,6],"interpolate":"monotone","clip":true},"encoding":{"x":{"field":"x","type":"quantitative","scale":{"domain":[0,90],"nice":false},"axis":null},"y":{"field":"b","type":"quantitative","scale":{"domain":[0.11,2.25],"nice":false,"zero":false},"axis":null}}},
   {"data":{"values":[{"t":"H19"}]},"mark":{"type":"text","align":"right","baseline":"alphabetic","font":"Liberation Sans","fontSize":20,"color":"#000"},"encoding":{"x":{"datum":82.5,"type":"quantitative","scale":{"domain":[0,90],"nice":false},"axis":null},"y":{"datum":1.79,"type":"quantitative","scale":{"domain":[0.11,2.25],"nice":false,"zero":false},"axis":null},"text":{"field":"t"}}}
  ]},
  {"width":223,"height":174,"resolve":{"axis":{"x":"independent","y":"independent"}},"layer":[
   {"data":{"name":"s21R"},"mark":{"type":"rule","color":"#000","strokeWidth":1,"clip":true},"encoding":{"x":{"field":"x","type":"quantitative","scale":{"domain":[0,90],"nice":false},"axis":null},"y":{"field":"y","type":"quantitative","scale":{"domain":[0.11,2.25],"nice":false,"zero":false},"axis":null},"y2":{"field":"y2"}}},
   {"data":{"name":"d21R"},"mark":{"type":"errorbar","ticks":true,"color":"#000","clip":true,"size":5,"thickness":1},"encoding":{"x":{"field":"x","type":"quantitative","scale":{"domain":[0,90],"nice":false},"axis":null},"y":{"field":"y","type":"quantitative","scale":{"domain":[0.11,2.25],"nice":false,"zero":false},"axis":null},"yError":{"field":"e"}}},
   {"data":{"name":"d21R"},"mark":{"type":"line","color":"#000","strokeWidth":0.8,"clip":true},"encoding":{"x":{"field":"x","type":"quantitative","scale":{"domain":[0,90],"nice":false},"axis":null},"y":{"field":"y","type":"quantitative","scale":{"domain":[0.11,2.25],"nice":false,"zero":false},"axis":null}}},
   {"data":{"name":"d21R"},"mark":{"type":"circle","color":"#000","size":42,"opacity":1,"clip":true},"encoding":{"x":{"field":"x","type":"quantitative","scale":{"domain":[0,90],"nice":false},"axis":{"orient":"bottom","values":[0,7.5,15,22.5,30,37.5,45,52.5,60,67.5,75,82.5,90],"labelExpr":"datum.value % 15 === 0 ? datum.label : ''","labelPadding":8,"title":"Angle Θ (degrees)","titlePadding":9,"tickDash":{"condition":{"test":"datum.value % 15 !== 0","value":[3,20]},"value":[10,0]}}},"y":{"field":"y","type":"quantitative","scale":{"domain":[0.11,2.25],"nice":false,"zero":false},"axis":{"orient":"left","values":[0.25,0.5,0.75,1,1.25,1.5,1.75,2],"labels":false,"title":null,"minExtent":0,"maxExtent":0,"tickDash":{"condition":{"test":"datum.value % 0.5 !== 0","value":[3,20]},"value":[10,0]}}}}},
   {"data":{"name":"c21R"},"mark":{"type":"line","color":"#ff0000","strokeWidth":5,"interpolate":"monotone","clip":true},"encoding":{"x":{"field":"x","type":"quantitative","scale":{"domain":[0,90],"nice":false},"axis":{"orient":"top","values":[0,7.5,15,22.5,30,37.5,45,52.5,60,67.5,75,82.5,90],"labels":false,"title":null,"tickDash":{"condition":{"test":"datum.value % 15 !== 0","value":[3,20]},"value":[10,0]}}},"y":{"field":"r","type":"quantitative","scale":{"domain":[0.11,2.25],"nice":false,"zero":false},"axis":{"orient":"right","values":[0.25,0.5,0.75,1,1.25,1.5,1.75,2],"labels":false,"title":null,"tickDash":{"condition":{"test":"datum.value % 0.5 !== 0","value":[3,20]},"value":[10,0]}}}}},
   {"data":{"name":"c21R"},"mark":{"type":"line","color":"#00e600","strokeWidth":2,"interpolate":"monotone","clip":true},"encoding":{"x":{"field":"x","type":"quantitative","scale":{"domain":[0,90],"nice":false},"axis":null},"y":{"field":"g","type":"quantitative","scale":{"domain":[0.11,2.25],"nice":false,"zero":false},"axis":null}}},
   {"data":{"name":"c21R"},"mark":{"type":"line","color":"#0a14ff","strokeWidth":4,"strokeDash":[12,6],"interpolate":"monotone","clip":true},"encoding":{"x":{"field":"x","type":"quantitative","scale":{"domain":[0,90],"nice":false},"axis":null},"y":{"field":"b","type":"quantitative","scale":{"domain":[0.11,2.25],"nice":false,"zero":false},"axis":null}}},
   {"data":{"values":[{"t":"H21"}]},"mark":{"type":"text","align":"right","baseline":"alphabetic","font":"Liberation Sans","fontSize":20,"color":"#000"},"encoding":{"x":{"datum":82.5,"type":"quantitative","scale":{"domain":[0,90],"nice":false},"axis":null},"y":{"datum":1.85,"type":"quantitative","scale":{"domain":[0.11,2.25],"nice":false,"zero":false},"axis":null},"text":{"field":"t"}}}
  ]}
 ]}
]
}
